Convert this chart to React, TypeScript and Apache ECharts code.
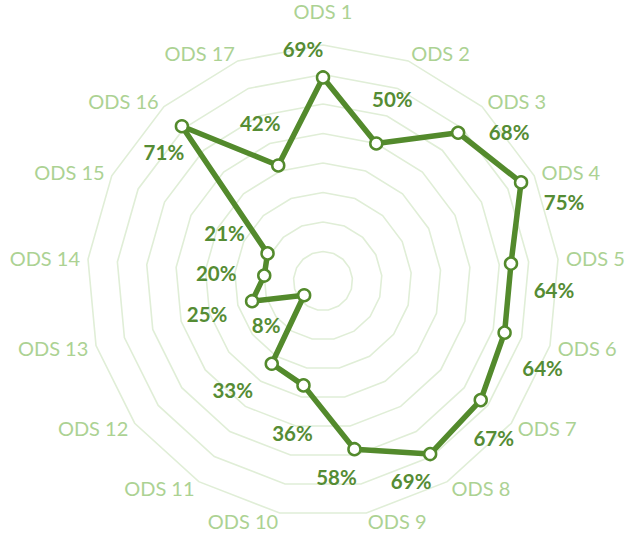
import React, { useEffect, useRef } from "react";
import * as echarts from "echarts";

const indicators = [
  "ODS 1", "ODS 2", "ODS 3", "ODS 4", "ODS 5", "ODS 6", "ODS 7", "ODS 8", "ODS 9",
  "ODS 10", "ODS 11", "ODS 12", "ODS 13", "ODS 14", "ODS 15", "ODS 16", "ODS 17",
];
const values = [69, 50, 68, 75, 64, 64, 67, 69, 58, 36, 33, 8, 25, 20, 21, 71, 42];
const axisMax = 80;
const splitCount = 8;

// label offsets (dx, dy) from each point, in px (layout only)
const labelOffsets: [number, number][] = [
  [-20, -28], [16, -44], [51, -1], [43, 20], [43, 26], [38, 35], [13, 38], [-19, 27],
  [-18, 28], [-11, 48], [-39, 26], [-38, 30], [-45, 13], [-48, -3], [-43, -20], [-18, 26],
  [-18, -42],
];

const LINE = "#538a2c";
const LABEL = "#558c34";
const NAME = "#acd293";
const GRID = "#e0eed7";
const FONT = "Lato, 'Open Sans', sans-serif";

export default function App() {
  const ref = useRef<HTMLDivElement>(null);
  useEffect(() => {
    if (!ref.current) return;
    const chart = echarts.init(ref.current, undefined, { renderer: "svg" });
    // ECharts places indicators counter-clockwise; reorder to get clockwise layout
    const order = [0];
    for (let i = indicators.length - 1; i >= 1; i--) order.push(i);
    const rich: Record<string, any> = {};
    labelOffsets.forEach(([dx, dy], i) => {
      rich["l" + i] = {
        fontSize: 20.5,
        fontWeight: "bold",
        fontFamily: FONT,
        color: LABEL,
        padding: [Math.max(2 * dy, 0), Math.max(-2 * dx, 0), Math.max(-2 * dy, 0), Math.max(2 * dx, 0)],
      };
    });
    chart.setOption({
      animation: false,
      backgroundColor: "#fff",
      radar: {
        center: [323, 281],
        radius: 236,
        startAngle: 90,
        shape: "polygon",
        splitNumber: splitCount,
        indicator: order.map((i) => ({ name: indicators[i], max: axisMax, min: 0 })),
        axisName: {
          color: NAME,
          fontSize: 20,
          fontFamily: FONT,
          formatter: (name: string) => (name === indicators[0] ? "{up|" + name + "}" : name),
          rich: {
            up: { color: NAME, fontSize: 20, fontFamily: FONT, padding: [0, 0, 16, 0] },
          },
        },
        nameGap: 8,
        axisLine: { show: false },
        axisTick: { show: false },
        axisLabel: { show: false },
        splitArea: { show: false },
        splitLine: { lineStyle: { color: GRID, width: 1.6 } },
      },
      series: [
        {
          type: "radar",
          symbol: "circle",
          symbolSize: 12,
          lineStyle: { color: LINE, width: 5.5 },
          itemStyle: { color: "#ffffff", borderColor: LINE, borderWidth: 2.5 },
          label: {
            show: true,
            position: "inside",
            rich,
            formatter: (p: any) => {
              const i = order[p.dimensionIndex];
              return "{l" + i + "|" + values[i] + "%}";
            },
          },
          data: [{ value: order.map((i) => values[i]) }],
        },
      ],
    });
    return () => chart.dispose();
  }, []);
  return (
    <div
      ref={ref}
      style={{ position: "absolute", left: 0, top: 0, width: 627, height: 533 }}
    />
  );
}
